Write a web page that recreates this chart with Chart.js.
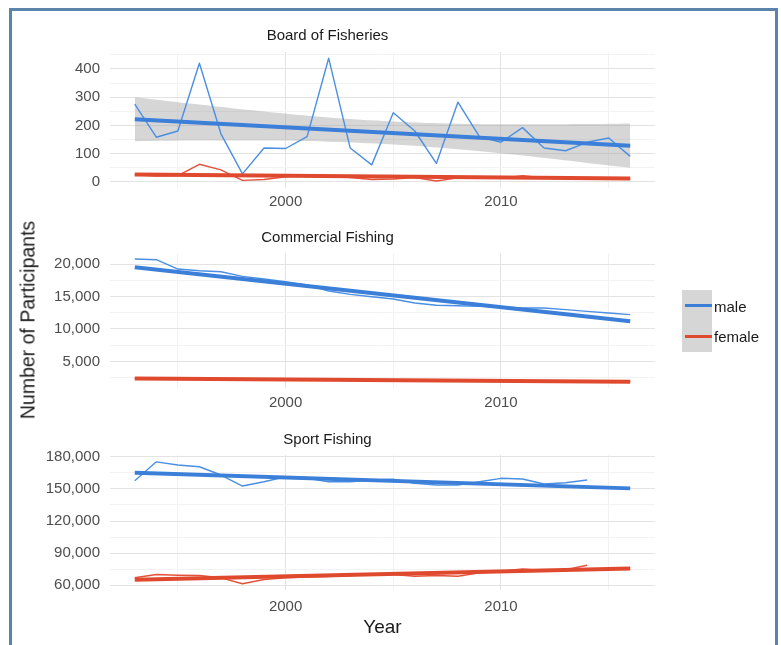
<!DOCTYPE html>
<html>
<head>
<meta charset="utf-8">
<script src="https://cdn.jsdelivr.net/npm/chart.js@4.4.1/dist/chart.umd.min.js"></script>
<style>
    body { margin: 0; background: #fff; width: 781px; height: 645px; overflow: hidden; position: relative; font-family: "Liberation Sans", Arial, sans-serif; }
    .frame { position: absolute; left: 9px; top: 8px; width: 763px; height: 700px; border: 3px solid #5b84aa; }
    canvas { position: absolute; left: 0; }
    .ytitle { position: absolute; left: 28px; top: 320px; transform: translate(-50%, -50%) rotate(-90deg); white-space: nowrap; font-size: 19.5px; color: #1a1a1a; }
    .key { position: absolute; left: 682px; width: 30px; height: 31px; background: #d6d6d6; }
    .key span { position: absolute; left: 3px; top: 14px; width: 27px; height: 3px; }
    .key-label { position: absolute; left: 714px; font-size: 15px; line-height: 18px; color: #1a1a1a; }
</style>
</head>
<body>
<div class="frame"></div>
<canvas id="board" width="781" height="191" style="top:27px"></canvas>
<canvas id="commercial" width="781" height="189" style="top:229px"></canvas>
<canvas id="sport" width="781" height="214" style="top:431px"></canvas>
<div class="ytitle">Number of Participants</div>

<div class="key" style="top:290px"><span style="background:#3b7fd9"></span></div>
<div class="key-label" style="top:298px">male</div>
<div class="key" style="top:321px"><span style="background:#df4a2f"></span></div>
<div class="key-label" style="top:328px">female</div>

<script>
// Participation by year and sex
const years = [1993, 1994, 1995, 1996, 1997, 1998, 1999, 2000, 2001, 2002, 2003, 2004,
               2005, 2006, 2007, 2008, 2009, 2010, 2011, 2012, 2013, 2014, 2015, 2016];
const sportYears = years.slice(0, 22); // sport data stops at 2014
const trendYears = [1993, 2016];

const yearTicks = [2000, 2010];
const boardTicks = [0, 100, 200, 300, 400];
const commTicks = [5000, 10000, 15000, 20000];
const sportTicks = [60000, 90000, 120000, 150000, 180000];

const boardMale = [275, 158, 180, 420, 170, 28, 120, 118, 160, 438, 120, 60,
                   245, 180, 65, 282, 160, 140, 192, 120, 110, 140, 155, 90];
const boardFemale = [25, 20, 22, 62, 42, 5, 8, 18, 22, 20, 15, 8,
                     10, 15, 3, 14, 12, 12, 22, 14, 18, 12, 10, 9];
const boardTrendMale = [222, 128];
const boardTrendFemale = [26, 12];
// confidence band around the male trend
const bandYears = [1993, 1996, 1999, 2002, 2005, 2008, 2011, 2014, 2016];
const bandUpper = [300, 274, 249, 228, 214, 206, 204, 205, 207];
const bandLower = [144, 146, 146, 142, 132, 115, 93, 67, 50];

const commMale = [20780, 20670, 19230, 18970, 18820, 18100, 17700, 17280, 16770, 15850, 15330, 14970,
                  14610, 14000, 13640, 13580, 13480, 13380, 13230, 13230, 12970, 12710, 12450, 12200];
const commFemale = [2400, 2390, 2370, 2360, 2330, 2320, 2290, 2280, 2250, 2240, 2210, 2190,
                    2170, 2150, 2120, 2100, 2080, 2060, 2030, 2010, 1980, 1960, 1930, 1900];
const commTrendMale = [19500, 11200];
const commTrendFemale = [2360, 1850];

const sportMale = [157700, 175300, 172300, 170700, 163000, 152700, 156700, 161400, 160000, 156700, 156700,
                   158300, 159000, 155300, 153700, 153700, 156700, 159900, 159300, 154600, 155800, 158300];
const sportFemale = [66900, 70000, 69300, 69000, 66900, 61300, 65300, 66900, 67500, 68000, 69000,
                     70000, 70000, 68400, 69000, 68400, 71500, 73000, 75200, 73700, 74600, 78600];
const sportTrendMale = [165000, 150500];
const sportTrendFemale = [65000, 75500];

const BLUE = '#4a8fe3', BLUE_DARK = '#3b7fd9';
const RED = '#e4513a', RED_DARK = '#df4a2f';
const GRID_MAJOR = '#e3e3e3', GRID_MINOR = '#f2f2f2';

Chart.defaults.font.family = '"Liberation Sans", Arial, sans-serif';

function line(xs, ys, color, width, order) {
    return {
        data: xs.map((x, i) => ({ x: x, y: ys[i] })),
        borderColor: color,
        borderWidth: width,
        borderJoinStyle: 'round',
        pointRadius: 0,
        tension: 0,
        fill: false,
        order: order
    };
}

// major ticks plus a minor gridline halfway between (and half a step outside) them
function withMinor(majors, min, max) {
    const step = majors[1] - majors[0];
    const out = [];
    const first = majors[0] - step / 2;
    if (first >= min) out.push({ value: first, isMajor: false });
    majors.forEach(v => {
        out.push({ value: v, isMajor: true });
        if (v + step / 2 <= max) out.push({ value: v + step / 2, isMajor: false });
    });
    return out;
}

function makePanel(id, opts) {
    const xMin = 1991.85, xMax = 2017.15;
    new Chart(document.getElementById(id), {
        type: 'line',
        data: { datasets: opts.datasets },
        options: {
            responsive: false,
            animation: false,
            events: [],
            layout: { padding: { left: 0, right: 126, top: 0, bottom: opts.bottomPad || 0 } },
            plugins: {
                legend: { display: false },
                tooltip: { enabled: false },
                title: {
                    display: true,
                    text: opts.title,
                    color: '#1a1a1a',
                    font: { size: 15, weight: 'normal' },
                    padding: { top: 0, bottom: opts.titleGap }
                }
            },
            scales: {
                x: {
                    type: 'linear',
                    min: xMin,
                    max: xMax,
                    border: { display: false },
                    grid: {
                        drawTicks: false,
                        color: c => c.tick && c.tick.isMajor ? GRID_MAJOR : GRID_MINOR
                    },
                    ticks: {
                        padding: opts.xPad,
                        color: '#4d4d4d',
                        font: { size: 15 },
                        maxRotation: 0,
                        autoSkip: false,
                        callback: (v, i, ticks) => ticks[i].isMajor ? String(v) : ''
                    },
                    afterBuildTicks: s => { s.ticks = withMinor(yearTicks, xMin, xMax); },
                    title: {
                        display: !!opts.xTitle,
                        text: opts.xTitle || '',
                        color: '#1a1a1a',
                        font: { size: 19 },
                        padding: 0
                    },
                    afterFit: s => { s.height = opts.xHeight; }
                },
                y: {
                    min: opts.yMin,
                    max: opts.yMax,
                    border: { display: false },
                    grid: {
                        drawTicks: false,
                        color: c => c.tick && c.tick.isMajor ? GRID_MAJOR : GRID_MINOR
                    },
                    ticks: {
                        padding: 10,
                        color: '#4d4d4d',
                        font: { size: 15 },
                        autoSkip: false,
                        callback: (v, i, ticks) => ticks[i].isMajor ? v.toLocaleString('en-US') : ''
                    },
                    afterBuildTicks: s => { s.ticks = withMinor(opts.yTicks, opts.yMin, opts.yMax); },
                    afterFit: s => { s.width = 110; }
                }
            }
        }
    });
}

const boardBand = line(bandYears, bandUpper, 'rgba(0,0,0,0)', 0, 5);
boardBand.fill = '+1';
boardBand.backgroundColor = 'rgba(153,153,153,0.4)';
boardBand.tension = 0.4;
const boardBandLow = line(bandYears, bandLower, 'rgba(0,0,0,0)', 0, 5);
boardBandLow.tension = 0.4;

makePanel('board', {
    title: 'Board of Fisheries',
    titleGap: 7,
    yMin: -22, yMax: 460, yTicks: boardTicks,
    xPad: 5, xHeight: 30,
    datasets: [
        boardBand, boardBandLow,
        line(years, boardMale, BLUE, 1.4, 3),
        line(years, boardFemale, RED, 1.4, 3),
        line(trendYears, boardTrendMale, BLUE_DARK, 4, 1),
        line(trendYears, boardTrendFemale, RED_DARK, 4, 1)
    ]
});

makePanel('commercial', {
    title: 'Commercial Fishing',
    titleGap: 6,
    yMin: 900, yMax: 21700, yTicks: commTicks,
    xPad: 6, xHeight: 30,
    datasets: [
        line(years, commMale, BLUE, 1.4, 3),
        line(years, commFemale, RED, 1.4, 3),
        line(trendYears, commTrendMale, BLUE_DARK, 4, 1),
        line(trendYears, commTrendFemale, RED_DARK, 4, 1)
    ]
});

makePanel('sport', {
    title: 'Sport Fishing',
    titleGap: 6,
    yMin: 55500, yMax: 181700, yTicks: sportTicks,
    xPad: 8, xHeight: 49, bottomPad: 6,
    xTitle: 'Year',
    datasets: [
        line(sportYears, sportMale, BLUE, 1.4, 3),
        line(sportYears, sportFemale, RED, 1.4, 3),
        line(trendYears, sportTrendMale, BLUE_DARK, 4, 1),
        line(trendYears, sportTrendFemale, RED_DARK, 4, 1)
    ]
});
</script>
</body>
</html>
